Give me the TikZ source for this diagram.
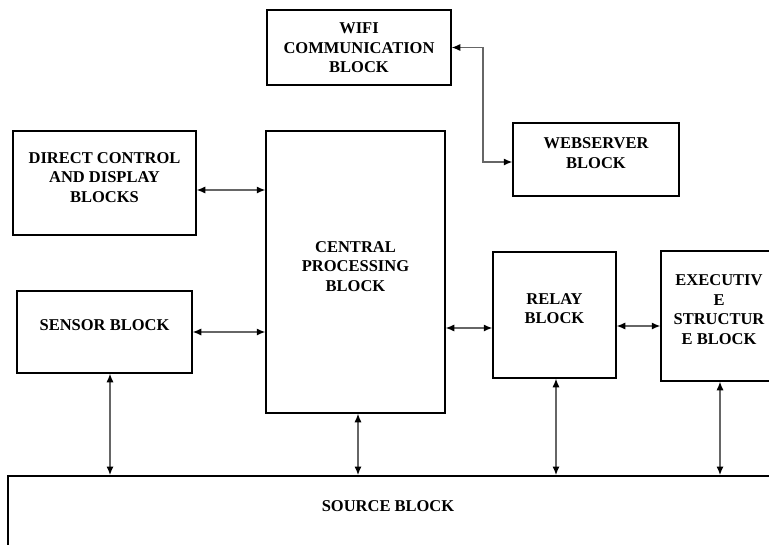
\documentclass[tikz,border=0pt]{standalone}
\usepackage{fontspec}
\setmainfont{Liberation Serif}
\usetikzlibrary{arrows.meta, positioning}

% text sits a little above the middle of each block
\newcommand{\blktext}[2][5pt]{\raisebox{#1}[\height][\depth]{\begin{tabular}{@{}c@{}}#2\end{tabular}}}

\tikzset{
  blk/.style={draw, line width=1.5pt, inner sep=0pt,
    font=\bfseries\fontsize{16.5}{19.5}\selectfont},
  link/.style={{Latex[length=8.5pt,width=7pt,black]}-{Latex[length=8.5pt,width=7pt,black]}, line width=1.1pt, draw=black!60}
}

\begin{document}
\begin{tikzpicture}[x=1pt, y=-1pt]
  \clip (0,0) rectangle (769,544);
  %Define nodes
  \node[blk, minimum width=184pt, minimum height=75pt] (wifi) at (359,47.5) {\blktext[-2pt]{WIFI\\COMMUNICATION\\BLOCK}};
  \node[blk, minimum width=166pt, minimum height=73pt] (web) at (596,159.5) {\blktext{WEBSERVER\\BLOCK}};
  \node[blk, minimum width=183pt, minimum height=104pt] (dcb) at (104.5,183) {\blktext[4pt]{DIRECT CONTROL\\AND DISPLAY\\BLOCKS}};
  \node[blk, minimum width=179pt, minimum height=282pt] (cpb) at (355.5,272) {\blktext[4pt]{CENTRAL\\PROCESSING\\BLOCK}};
  \node[blk, minimum width=175pt, minimum height=82pt] (sensor) at (104.5,332) {\blktext{SENSOR BLOCK}};
  \node[blk, minimum width=123pt, minimum height=126pt] (relay) at (554.5,315) {\blktext{RELAY\\BLOCK}};
  \node[blk, minimum width=116pt, minimum height=130pt] (exec) at (719,316) {\blktext{EXECUTIV\\E\\STRUCTUR\\E BLOCK}};
  \node[blk, minimum width=763pt, minimum height=90pt, anchor=north west] (src) at (7,475) {};
  \node[font=\bfseries\fontsize{16.5}{19.5}\selectfont] (srclabel) at (388,506) {SOURCE BLOCK};
  \coordinate (bend) at (483,162);

  % Connect the nodes
  \draw[link] (wifi.east) -| (bend) -- ([yshift=-2.5pt]web.west);
  \draw[link] ([yshift=-7pt]dcb.east) -- ([yshift=-7pt]dcb.east -| cpb.west);
  \draw[link] (sensor.east) -- (sensor.east -| cpb.west);
  \draw[link] ([yshift=-13pt]relay.west -| cpb.east) -- ([yshift=-13pt]relay.west);
  \draw[link] ([yshift=-11pt]relay.east) -- ([yshift=-11pt]relay.east -| exec.west);
  \draw[link] ([xshift=5.5pt]sensor.south) -- ([xshift=5.5pt]sensor.south |- src.north);
  \draw[link] ([xshift=2.5pt]cpb.south) -- ([xshift=2.5pt]cpb.south |- src.north);
  \draw[link] ([xshift=1.5pt]relay.south) -- ([xshift=1.5pt]relay.south |- src.north);
  \draw[link] ([xshift=1pt]exec.south) -- ([xshift=1pt]exec.south |- src.north);
\end{tikzpicture}
\end{document}
